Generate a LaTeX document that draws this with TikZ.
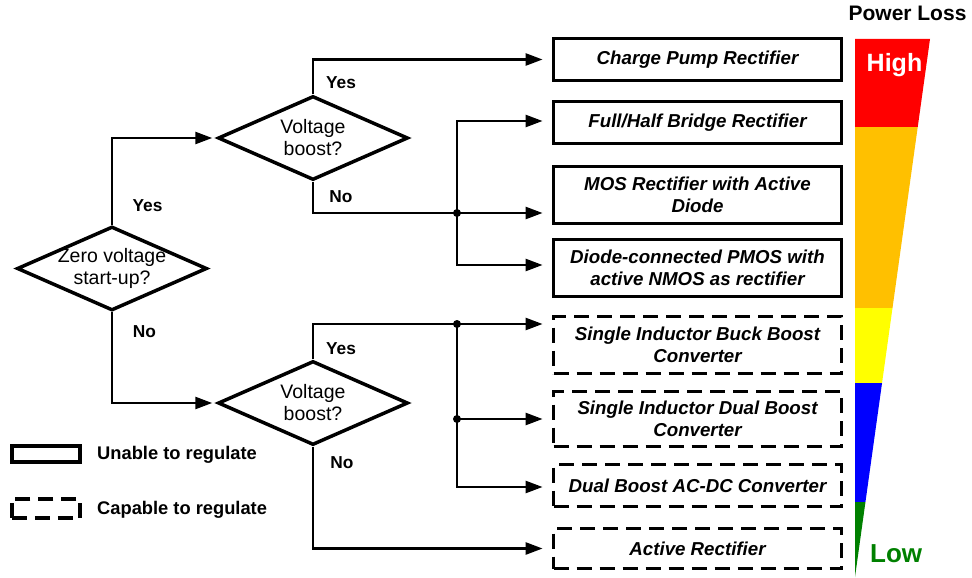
\documentclass[tikz,border=0pt]{standalone}
\usepackage{fontspec}
\setmainfont{Liberation Sans}
\usetikzlibrary{shapes.geometric,arrows.meta,calc}
\definecolor{plred}{RGB}{255,0,0}
\definecolor{plorange}{RGB}{255,192,0}
\definecolor{plyellow}{RGB}{255,255,0}
\definecolor{plblue}{RGB}{0,0,255}
\definecolor{plgreen}{RGB}{0,128,0}
\begin{document}
\begin{tikzpicture}[x=1pt,y=-1pt,
  conn/.style={line width=2.5pt},
  arr/.style={conn,-{Triangle[length=17pt,width=12pt]},shorten >=9pt},
  dia/.style={draw,diamond,line width=3.5pt,minimum width=190pt,minimum height=84pt,inner sep=0pt},
  dtext/.style={font=\fontsize{19.5}{22}\selectfont,align=center,inner sep=0pt},
  lab/.style={font=\fontsize{17.3}{20}\selectfont\bfseries,inner sep=0pt},
  leglab/.style={font=\fontsize{18.3}{20}\selectfont\bfseries,inner sep=0pt,anchor=west},
  solidbox/.style={draw,rectangle,line width=3.8pt,minimum width=288pt,inner sep=0pt,align=center,font=\fontsize{18.7}{22}\selectfont\bfseries\itshape},
  dashbox/.style={solidbox,dash pattern=on 15pt off 8pt},
  jdot/.style={circle,fill,inner sep=0pt,minimum size=8pt},
]
\useasboundingbox (0,0) rectangle (972,578);

% decision diamonds
\node[dia] (zero) at (112,268.5) {};
\node[dtext] (zerot) at (zero.center) {Zero voltage\\start-up?};
\node[dia] (vb1) at (313,138) {};
\node[dtext] (vb1t) at (vb1.center) {Voltage\\boost?};
\node[dia] (vb2) at (313,403) {};
\node[dtext] (vb2t) at (vb2.center) {Voltage\\boost?};

% result boxes
\node[solidbox,minimum height=42pt] (b1) at (697.5,59.5) {Charge Pump Rectifier};
\node[solidbox,minimum height=42pt] (b2) at (697.5,122.5) {Full/Half Bridge Rectifier};
\node[solidbox,minimum height=57pt] (b3) at (697.5,195) {MOS Rectifier with Active\\Diode};
\node[solidbox,minimum height=57pt] (b4) at (697.5,268) {Diode-connected PMOS with\\active NMOS as rectifier};
\node[dashbox,minimum height=57pt] (b5) at (697.5,345) {Single Inductor Buck Boost\\Converter};
\node[dashbox,minimum height=55pt] (b6) at (697.5,419) {Single Inductor Dual Boost\\Converter};
\node[dashbox,minimum height=42pt] (b7) at (697.5,485.5) {Dual Boost AC-DC Converter};
\node[dashbox,minimum height=40pt] (b8) at (697.5,548.5) {Active Rectifier};

% connectors from first decision
\draw[arr,shorten >=4pt] (zero.north) |- (vb1.west);
\draw[arr,shorten >=4pt] (zero.south) |- (vb2.west);

% upper decision
\coordinate (j1) at (457,213);
\coordinate (j1u) at (457,121);
\coordinate (j1d) at (457,265);
\draw[arr] (vb1.north) |- (b1.west);
\draw[conn] (vb1.south) |- (j1);
\draw[arr] (j1) -- (j1 -| b3.west);
\draw[arr] (j1) |- (b2.west |- j1u);
\draw[arr] (j1) |- (b4.west |- j1d);
\node[jdot] (d1) at (j1) {};

% lower decision
\coordinate (j2) at (457,324);
\coordinate (j2m) at (457,419);
\coordinate (j2d) at (457,487);
\draw[conn] (vb2.north) |- (j2);
\draw[arr] (j2) -- (j2 -| b5.west);
\draw[arr] (j2m) -- (j2m -| b6.west);
\draw[arr] (j2) |- (b7.west |- j2d);
\draw[arr] (vb2.south) |- (b8.west);
\node[jdot] (d2) at (j2) {};
\node[jdot] (d3) at (j2m) {};

% yes / no labels
\node[lab] (yz) at (147.5,206) {Yes};
\node[lab] (nz) at (144.5,332) {No};
\node[lab] (y1) at (341,83) {Yes};
\node[lab] (n1) at (341,197) {No};
\node[lab] (y2) at (341,349) {Yes};
\node[lab] (n2) at (342,463) {No};

% legend
\node[draw,line width=3.8pt,minimum width=68.5pt,minimum height=16.5pt,inner sep=0pt] (lg1) at (46,454) {};
\node[leglab] (lg1t) at (97,455) {Unable to regulate};
\node[draw,line width=3.8pt,dash pattern=on 15pt off 8pt,minimum width=68.5pt,minimum height=19.5pt,inner sep=0pt] (lg2) at (46,508.5) {};
\node[leglab] (lg2t) at (97,510) {Capable to regulate};

% power loss wedge
\fill[plred] (855,39) -- (930,39) -- (917.73,127) -- (855,127) -- cycle;
\fill[plorange] (855,127) -- (917.73,127) -- (892.50,308) -- (855,308) -- cycle;
\fill[plyellow] (855,308) -- (892.50,308) -- (882.04,383) -- (855,383) -- cycle;
\fill[plblue] (855,383) -- (882.04,383) -- (865.45,502) -- (855,502) -- cycle;
\fill[plgreen] (855,502) -- (865.45,502) -- (855,577) -- cycle;

\node[anchor=base,font=\fontsize{21}{24}\selectfont\bfseries,inner sep=0pt] (pl) at (907.5,21) {Power Loss};
\node[anchor=base,text=white,font=\fontsize{25}{28}\selectfont\bfseries,inner sep=0pt] (hi) at (894.5,71) {High};
\node[anchor=base west,text=plgreen,font=\fontsize{26}{28}\selectfont\bfseries,inner sep=0pt] (lo) at (870,562) {Low};
\end{tikzpicture}
\end{document}
